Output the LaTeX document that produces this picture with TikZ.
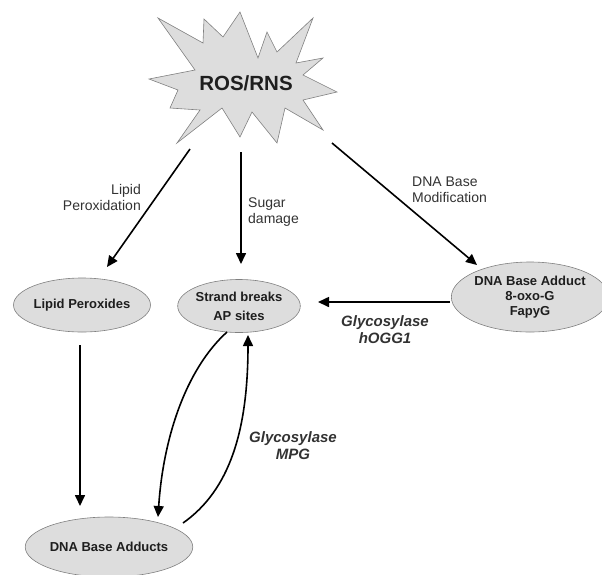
\documentclass[tikz,border=0pt]{standalone}
\usepackage{fontspec}
\setmainfont{Liberation Sans}
\usetikzlibrary{shapes.geometric,arrows.meta}
\definecolor{ellfill}{RGB}{221,221,221}
\definecolor{ellline}{RGB}{128,128,128}
\definecolor{txt}{RGB}{30,30,30}
\definecolor{lbl}{RGB}{50,50,50}
\begin{document}
\begin{tikzpicture}[x=1pt,y=-1pt,
  ell/.style={ellipse,draw=ellline,fill=ellfill,line width=0.6pt,inner sep=0pt,align=center,
    font=\fontsize{13}{19}\selectfont\bfseries,text=txt},
  arr/.style={-{Triangle[length=11pt,width=10pt]},line width=1.6pt,black},
  lab/.style={font=\fontsize{14}{16}\selectfont,text=lbl,inner sep=0pt},
  glab/.style={font=\fontsize{15}{17}\selectfont\bfseries\itshape,text=lbl,inner sep=0pt,align=center}]
\useasboundingbox (0,0) rectangle (602,574);
% star
\draw[draw=ellline,fill=ellfill,line width=0.6pt,line join=miter]
 (158,18) -- (203,43) -- (204,19) -- (223,37) -- (240,12) -- (258,58) -- (267,32) -- (277,52)
 -- (313,18) -- (296,63) -- (323,58) -- (303,75) -- (337,92) -- (303,100) -- (323,130)
 -- (285,108) -- (277,143) -- (252,112) -- (240,137) -- (222,108) -- (177,143) -- (200,110)
 -- (170,108) -- (178,90) -- (149,79) -- (195,70) -- cycle;
\node[font=\fontsize{20.5}{24}\selectfont\bfseries,text=txt,inner sep=0pt] (ros) at (246,83) {ROS/RNS};
% coordinates for arrow starts
\coordinate (s1) at (190,149);
\coordinate (s2) at (241,152);
\coordinate (s3) at (332,143);
\coordinate (e1) at (107,267);
\coordinate (e2) at (241,264);
\coordinate (e3) at (477,265);
% ellipses
\node[ell,minimum width=137pt,minimum height=54pt] (lp) at (82,305) {Lipid Peroxides};
\node[ell,minimum width=119pt,minimum height=53pt] (sb) at (239,306) {Strand breaks\\AP sites};
\node[ell,minimum width=140pt,minimum height=70pt] (dba) at (530,297) {DNA Base Adduct\\[-4pt]8-oxo-G\\[-4pt]FapyG};
\node[ell,minimum width=147pt,minimum height=60pt] (dbas) at (109,547) {DNA Base Adducts};
% arrows
\draw[arr] (s1) -- (e1);
\draw[arr] (s2) -- (e2);
\draw[arr] (s3) -- (e3);
\coordinate (h1) at (450,302);
\coordinate (h2) at (318,302);
\draw[arr] (h1) -- (h2);
\coordinate (v1) at (80,345);
\coordinate (v2) at (80,506);
\draw[arr] (v1) -- (v2);
\coordinate (c1) at (227,332);
\coordinate (c2) at (158,517);
\draw[arr] (c1) .. controls (185,370) and (163,440) .. (c2);
\coordinate (d1) at (183,523);
\coordinate (d2) at (248,335);
\draw[arr] (d1) .. controls (230,490) and (248,430) .. (d2);
% labels
\node[lab,align=right,anchor=east] (l1) at (141,197) {Lipid\\Peroxidation};
\node[lab,align=left,anchor=west] (l2) at (248,212) {Sugar\\damage};
\node[lab,align=left,anchor=west] (l3) at (412,190) {DNA Base\\Modification};
\node[glab] (g1) at (385,330) {Glycosylase\\hOGG1};
\node[glab] (g2) at (293,446) {Glycosylase\\MPG};
\end{tikzpicture}
\end{document}
